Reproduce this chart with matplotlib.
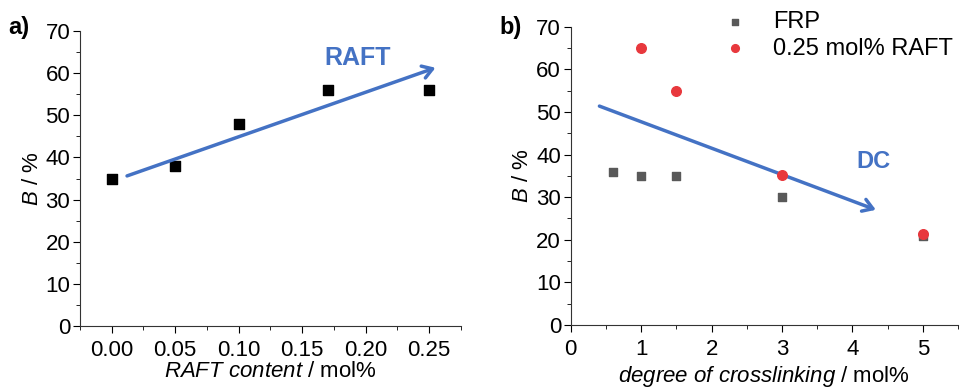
import matplotlib
matplotlib.use("Agg")
import matplotlib.pyplot as plt
from matplotlib.ticker import MultipleLocator

plt.rcParams['font.family'] = ['Liberation Sans', 'DejaVu Sans']
plt.rcParams['mathtext.fontset'] = 'custom'
plt.rcParams['mathtext.it'] = 'Liberation Sans:italic'
plt.rcParams['mathtext.rm'] = 'Liberation Sans'

# panel a data
raft_content = [0.00, 0.05, 0.10, 0.17, 0.25]
b_raft = [35, 38, 48, 56, 56]

# panel b data
dc_frp = [0.6, 1, 1.5, 3, 5]
b_frp = [36, 35, 35, 30, 21]
dc_raft = [1, 1.5, 3, 5]
b_raft025 = [65, 55, 35.2, 21.4]

blue = "#4472C4"
fs = 16

fig = plt.figure(figsize=(9.74, 3.9), dpi=100)
ax1 = fig.add_axes([0.0821, 0.164, 0.3912, 0.7565])
ax2 = fig.add_axes([0.586, 0.1667, 0.3976, 0.7648])

for ax in (ax1, ax2):
    ax.spines['top'].set_visible(False)
    ax.spines['right'].set_visible(False)
    for s in ('left', 'bottom'):
        ax.spines[s].set_color('#333333')
    ax.set_ylim(0, 70)
    ax.yaxis.set_major_locator(MultipleLocator(10))
    ax.yaxis.set_minor_locator(MultipleLocator(5))
    ax.tick_params(which='major', direction='out', length=5, labelsize=fs, pad=2)
    ax.tick_params(which='minor', direction='out', length=3)
    ax.tick_params(axis='x', which='major', pad=5)
    ax.set_ylabel("$B$ / %", fontsize=fs, labelpad=2)

# panel a
ax1.scatter(raft_content, b_raft, marker='s', s=45, color='black', zorder=3)
ax1.set_xlim(-0.025, 0.275)
ax1.xaxis.set_major_locator(MultipleLocator(0.05))
ax1.xaxis.set_minor_locator(MultipleLocator(0.025))
ax1.set_xticks([0.00, 0.05, 0.10, 0.15, 0.20, 0.25])
ax1.set_xticklabels(["0.00", "0.05", "0.10", "0.15", "0.20", "0.25"])
ax1.set_xlabel(r"$RAFT\ content$ / mol%", fontsize=fs, labelpad=0)
ax1.annotate("", xy=(0.257, 61.5), xytext=(0.010, 35.4),
             arrowprops=dict(arrowstyle='->,head_length=0.7,head_width=0.45',
                             color=blue, lw=2.5))
ax1.text(0.194, 63.6, "RAFT", color=blue, fontsize=18, fontweight='bold',
         ha='center', va='center')
fig.text(0.008, 0.93, "a)", fontsize=17, fontweight='bold', va='center')

# panel b
ax2.scatter(dc_frp, b_frp, marker='s', s=36, color='#595959', zorder=3, label='FRP')
ax2.scatter(dc_raft, b_raft025, marker='o', s=48, color='#E8383D', zorder=4,
            label='0.25 mol% RAFT')
ax2.set_xlim(0, 5.5)
ax2.xaxis.set_major_locator(MultipleLocator(1))
ax2.xaxis.set_minor_locator(MultipleLocator(0.5))
ax2.set_xlabel(r"$degree\ of\ crosslinking$ / mol%", fontsize=fs, labelpad=3)
ax2.annotate("", xy=(4.37, 26.8), xytext=(0.37, 51.6),
             arrowprops=dict(arrowstyle='->,head_length=0.7,head_width=0.45',
                             color=blue, lw=2.5))
ax2.text(4.3, 38.3, "DC", color=blue, fontsize=17, fontweight='bold',
         ha='center', va='center')
ax2.legend(loc='upper left', bbox_to_anchor=(0.34, 1.085), frameon=False,
           fontsize=17, handletextpad=0.6, labelspacing=0.2, borderaxespad=0,
           markerscale=0.8)
fig.text(0.513, 0.93, "b)", fontsize=17, fontweight='bold', va='center')

fig.savefig("out.png", dpi=100)
